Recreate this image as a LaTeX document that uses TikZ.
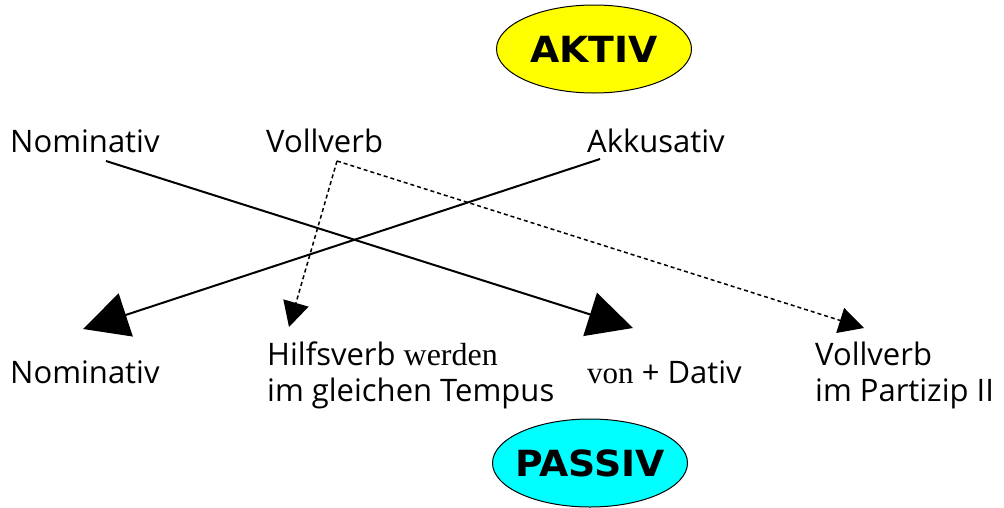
\documentclass[tikz,border=0pt]{standalone}
\usepackage{fontspec}
\setmainfont{Open Sans}
\newfontfamily\seriffont{Liberation Serif}
\newfontfamily\headfont{DejaVu Sans}[FakeStretch=1.05]
\usetikzlibrary{arrows.meta,shapes.geometric}
\definecolor{aktivyellow}{RGB}{255,255,0}
\definecolor{passivcyan}{RGB}{0,255,255}
\begin{document}
\begin{tikzpicture}[x=1pt,y=-1pt,
  lbl/.style={anchor=base west,inner sep=0pt,font=\fontsize{31}{36}\selectfont,align=left},
  head/.style={ellipse,draw=black,line width=1pt,minimum width=195pt,minimum height=88pt,
    inner xsep=-30pt,inner ysep=0pt,
    font=\headfont\bfseries\fontsize{36}{40}\selectfont},
  solidarrow/.style={line width=2pt,-{Triangle[length=45pt,width=45pt]}},
  dottedarrow/.style={line width=1.5pt,dash pattern=on 4pt off 3pt,-{Triangle[length=25pt,width=26pt]}}
]
\useasboundingbox (0,0) rectangle (1004,507);
% headings
\node[head,fill=aktivyellow] (aktiv) at (594,49) {AKTIV};
\node[head,fill=passivcyan] (passiv) at (590,463) {PASSIV};
% active row
\node[lbl] (nomA) at (10,152) {Nominativ};
\node[lbl] (vollA) at (266,152) {Vollverb};
\node[lbl] (akkA) at (587,152) {Akkusativ};
% passive row
\node[lbl] (nomP) at (10,383) {Nominativ};
\node[lbl] (hilfP) at (267,401) {Hilfsverb {\seriffont\fontsize{32}{36}\selectfont werden}\\im gleichen Tempus};
\node[lbl] (datP) at (587,383) {{\seriffont von} + Dativ};
\node[lbl] (vollP) at (815,401) {Vollverb\\im Partizip II};
% connector ends
\coordinate (nomA-out) at (106,161);
\coordinate (akkA-out) at (600,159);
\coordinate (vollA-out) at (337,161);
\coordinate (nomP-in) at (83,329);
\coordinate (hilfP-in) at (289,327);
\coordinate (datP-in) at (633,328);
\coordinate (vollP-in) at (864,328);
% connectors
\draw[solidarrow] (nomA-out) -- (datP-in);
\draw[solidarrow] (akkA-out) -- (nomP-in);
\draw[dottedarrow] (vollA-out) -- (hilfP-in);
\draw[dottedarrow] (vollA-out) -- (vollP-in);
\end{tikzpicture}
\end{document}
